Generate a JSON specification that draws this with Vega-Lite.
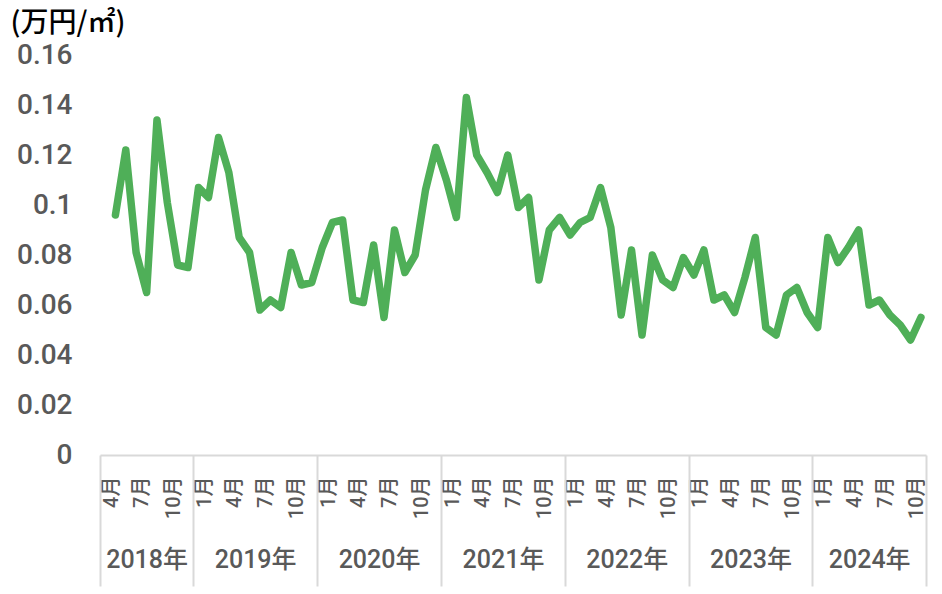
{
  "$schema": "https://vega.github.io/schema/vega-lite/v6.json",
  "width": 826,
  "height": 400,
  "autosize": {"type": "none"},
  "padding": {"left": 100, "top": 55, "right": 16, "bottom": 139},
  "background": "white",
  "config": {"view": {"stroke": null}, "axis": {"grid": false}},
  "data": {
    "values": [
      {"month": "2018-05", "price": 0.096},
      {"month": "2018-06", "price": 0.122},
      {"month": "2018-07", "price": 0.081},
      {"month": "2018-08", "price": 0.065},
      {"month": "2018-09", "price": 0.134},
      {"month": "2018-10", "price": 0.101},
      {"month": "2018-11", "price": 0.076},
      {"month": "2018-12", "price": 0.075},
      {"month": "2019-01", "price": 0.107},
      {"month": "2019-02", "price": 0.103},
      {"month": "2019-03", "price": 0.127},
      {"month": "2019-04", "price": 0.113},
      {"month": "2019-05", "price": 0.087},
      {"month": "2019-06", "price": 0.081},
      {"month": "2019-07", "price": 0.058},
      {"month": "2019-08", "price": 0.062},
      {"month": "2019-09", "price": 0.059},
      {"month": "2019-10", "price": 0.081},
      {"month": "2019-11", "price": 0.068},
      {"month": "2019-12", "price": 0.069},
      {"month": "2020-01", "price": 0.083},
      {"month": "2020-02", "price": 0.093},
      {"month": "2020-03", "price": 0.094},
      {"month": "2020-04", "price": 0.062},
      {"month": "2020-05", "price": 0.061},
      {"month": "2020-06", "price": 0.084},
      {"month": "2020-07", "price": 0.055},
      {"month": "2020-08", "price": 0.090},
      {"month": "2020-09", "price": 0.073},
      {"month": "2020-10", "price": 0.080},
      {"month": "2020-11", "price": 0.106},
      {"month": "2020-12", "price": 0.123},
      {"month": "2021-01", "price": 0.110},
      {"month": "2021-02", "price": 0.095},
      {"month": "2021-03", "price": 0.143},
      {"month": "2021-04", "price": 0.120},
      {"month": "2021-05", "price": 0.113},
      {"month": "2021-06", "price": 0.105},
      {"month": "2021-07", "price": 0.120},
      {"month": "2021-08", "price": 0.099},
      {"month": "2021-09", "price": 0.103},
      {"month": "2021-10", "price": 0.070},
      {"month": "2021-11", "price": 0.090},
      {"month": "2021-12", "price": 0.095},
      {"month": "2022-01", "price": 0.088},
      {"month": "2022-02", "price": 0.093},
      {"month": "2022-03", "price": 0.095},
      {"month": "2022-04", "price": 0.107},
      {"month": "2022-05", "price": 0.091},
      {"month": "2022-06", "price": 0.056},
      {"month": "2022-07", "price": 0.082},
      {"month": "2022-08", "price": 0.048},
      {"month": "2022-09", "price": 0.080},
      {"month": "2022-10", "price": 0.070},
      {"month": "2022-11", "price": 0.067},
      {"month": "2022-12", "price": 0.079},
      {"month": "2023-01", "price": 0.072},
      {"month": "2023-02", "price": 0.082},
      {"month": "2023-03", "price": 0.062},
      {"month": "2023-04", "price": 0.064},
      {"month": "2023-05", "price": 0.057},
      {"month": "2023-06", "price": 0.071},
      {"month": "2023-07", "price": 0.087},
      {"month": "2023-08", "price": 0.051},
      {"month": "2023-09", "price": 0.048},
      {"month": "2023-10", "price": 0.064},
      {"month": "2023-11", "price": 0.067},
      {"month": "2023-12", "price": 0.057},
      {"month": "2024-01", "price": 0.051},
      {"month": "2024-02", "price": 0.087},
      {"month": "2024-03", "price": 0.077},
      {"month": "2024-04", "price": 0.083},
      {"month": "2024-05", "price": 0.090},
      {"month": "2024-06", "price": 0.060},
      {"month": "2024-07", "price": 0.062},
      {"month": "2024-08", "price": 0.056},
      {"month": "2024-09", "price": 0.052},
      {"month": "2024-10", "price": 0.046},
      {"month": "2024-11", "price": 0.055}
    ]
  },
  "layer": [
    {
      "mark": {"type": "line", "color": "#4FAF58", "strokeWidth": 7.5, "strokeCap": "round", "strokeJoin": "round"},
      "encoding": {
        "x": {
          "field": "month",
          "timeUnit": "utcyearmonth",
          "type": "temporal",
          "bandPosition": 0.5,
          "scale": {"domain": [{"year": 2018, "month": 4, "date": 1, "utc": true}, {"year": 2024, "month": 12, "date": 1, "utc": true}]},
          "axis": {
            "orient": "bottom",
            "title": null,
            "values": [
              {"year": 2018, "month": 4, "date": 16, "utc": true},
              {"year": 2018, "month": 7, "date": 16, "utc": true},
              {"year": 2018, "month": 10, "date": 16, "utc": true},
              {"year": 2019, "month": 1, "date": 16, "utc": true},
              {"year": 2019, "month": 4, "date": 16, "utc": true},
              {"year": 2019, "month": 7, "date": 16, "utc": true},
              {"year": 2019, "month": 10, "date": 16, "utc": true},
              {"year": 2020, "month": 1, "date": 16, "utc": true},
              {"year": 2020, "month": 4, "date": 16, "utc": true},
              {"year": 2020, "month": 7, "date": 16, "utc": true},
              {"year": 2020, "month": 10, "date": 16, "utc": true},
              {"year": 2021, "month": 1, "date": 16, "utc": true},
              {"year": 2021, "month": 4, "date": 16, "utc": true},
              {"year": 2021, "month": 7, "date": 16, "utc": true},
              {"year": 2021, "month": 10, "date": 16, "utc": true},
              {"year": 2022, "month": 1, "date": 16, "utc": true},
              {"year": 2022, "month": 4, "date": 16, "utc": true},
              {"year": 2022, "month": 7, "date": 16, "utc": true},
              {"year": 2022, "month": 10, "date": 16, "utc": true},
              {"year": 2023, "month": 1, "date": 16, "utc": true},
              {"year": 2023, "month": 4, "date": 16, "utc": true},
              {"year": 2023, "month": 7, "date": 16, "utc": true},
              {"year": 2023, "month": 10, "date": 16, "utc": true},
              {"year": 2024, "month": 1, "date": 16, "utc": true},
              {"year": 2024, "month": 4, "date": 16, "utc": true},
              {"year": 2024, "month": 7, "date": 16, "utc": true},
              {"year": 2024, "month": 10, "date": 16, "utc": true}
            ],
            "labelExpr": "utcFormat(datum.value, '%-m') + '月'",
            "labelAngle": -90,
            "labelAlign": "right",
            "labelBaseline": "middle",
            "labelFont": "Roboto, Noto Sans CJK JP",
            "labelFontSize": 20,
            "labelFontWeight": 500,
            "labelColor": "#595959",
            "labelPadding": 21,
            "labelOffset": 6,
            "labelFlush": false,
            "labelOverlap": false,
            "ticks": false,
            "domainColor": "#D9D9D9",
            "domainWidth": 2
          }
        },
        "y": {
          "field": "price",
          "type": "quantitative",
          "scale": {"domain": [0, 0.16], "nice": false},
          "axis": {
            "values": [0, 0.02, 0.04, 0.06, 0.08, 0.1, 0.12, 0.14, 0.16],
            "format": "~g",
            "domain": false,
            "ticks": false,
            "grid": false,
            "labelFont": "Roboto",
            "labelFontSize": 28,
            "labelFontWeight": 500,
            "labelColor": "#595959",
            "labelPadding": 28,
            "labelFlush": false,
            "labelOverlap": false,
            "title": "(万円/㎡)",
            "titleAngle": 0,
            "titleAlign": "left",
            "titleBaseline": "alphabetic",
            "titleX": -90,
            "titleY": -24,
            "titleFont": "Noto Sans CJK JP",
            "titleFontSize": 28,
            "titleFontWeight": 500,
            "titleColor": "#000000"
          }
        }
      }
    },
    {
      "mark": {"type": "point", "opacity": 0},
      "encoding": {
        "x": {
          "field": "month",
          "timeUnit": "utcyearmonth",
          "type": "temporal",
          "axis": {
            "orient": "bottom",
            "title": null,
            "values": [
              {"year": 2018, "month": 8, "date": 16, "hours": 12, "utc": true},
              {"year": 2019, "month": 7, "date": 2, "hours": 12, "utc": true},
              {"year": 2020, "month": 7, "date": 2, "utc": true},
              {"year": 2021, "month": 7, "date": 2, "hours": 12, "utc": true},
              {"year": 2022, "month": 7, "date": 2, "hours": 12, "utc": true},
              {"year": 2023, "month": 7, "date": 2, "hours": 12, "utc": true},
              {"year": 2024, "month": 6, "date": 16, "hours": 12, "utc": true}
            ],
            "labelExpr": "utcFormat(datum.value, '%Y') + '年'",
            "labelAngle": 0,
            "labelAlign": "center",
            "labelBaseline": "top",
            "labelFont": "Roboto, Noto Sans CJK JP",
            "labelFontSize": 25,
            "labelFontWeight": 500,
            "labelColor": "#595959",
            "labelPadding": 92,
            "labelFlush": false,
            "labelOverlap": false,
            "ticks": false,
            "domain": false
          }
        },
        "y": {"field": "price", "type": "quantitative"}
      }
    },
    {
      "mark": {"type": "point", "opacity": 0},
      "encoding": {
        "x": {
          "field": "month",
          "timeUnit": "utcyearmonth",
          "type": "temporal",
          "axis": {
            "orient": "bottom",
            "title": null,
            "values": [
              {"year": 2018, "month": 4, "date": 1, "utc": true},
              {"year": 2019, "month": 1, "date": 1, "utc": true},
              {"year": 2020, "month": 1, "date": 1, "utc": true},
              {"year": 2021, "month": 1, "date": 1, "utc": true},
              {"year": 2022, "month": 1, "date": 1, "utc": true},
              {"year": 2023, "month": 1, "date": 1, "utc": true},
              {"year": 2024, "month": 1, "date": 1, "utc": true},
              {"year": 2024, "month": 12, "date": 1, "utc": true}
            ],
            "labels": false,
            "ticks": true,
            "tickSize": 131,
            "tickColor": "#D9D9D9",
            "tickWidth": 2,
            "domain": false
          }
        },
        "y": {"field": "price", "type": "quantitative"}
      }
    }
  ],
  "resolve": {"axis": {"x": "independent"}}
}
